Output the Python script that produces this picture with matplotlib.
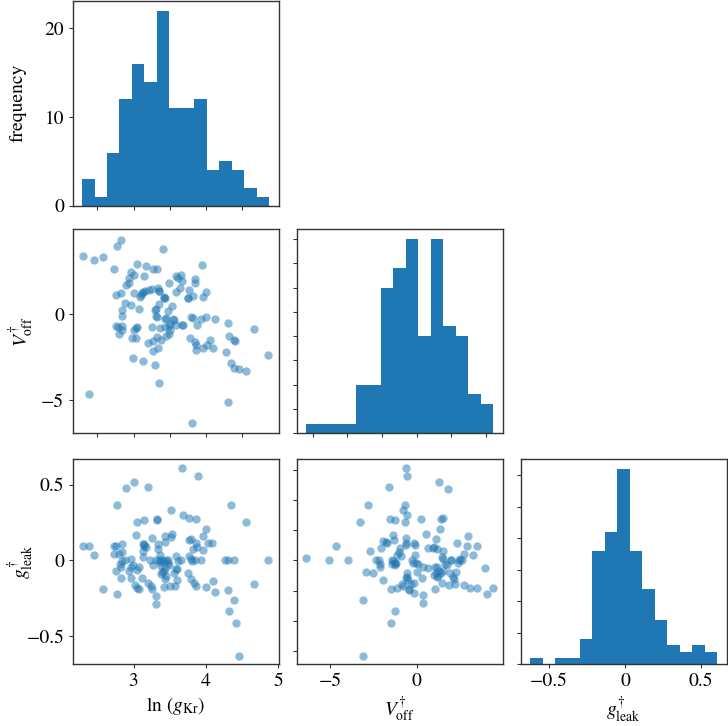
import numpy as np
import matplotlib
matplotlib.use("Agg")
import matplotlib.pyplot as plt

plt.rcParams['font.family'] = ['STIXGeneral', 'DejaVu Serif']
plt.rcParams['mathtext.fontset'] = 'stix'
plt.rcParams['font.size'] = 14

# ---------------- histogram data (diagonal) ----------------
lngkr_range = (2.287, 4.877)
lngkr_counts = [3, 1, 6, 12, 16, 14, 22, 11, 11, 12, 4, 5, 4, 2, 1]
voff_range = (-6.39, 4.42)
voff_counts = [1, 1, 1, 1, 5, 5, 15, 17, 20, 10, 20, 11, 10, 4, 3]
gleak_range = (-0.626, 0.608)
gleak_counts = [1, 0, 1, 1, 4, 18, 21, 31, 18, 12, 7, 3, 2, 3, 2]

# ---------------- scatter: ln(gKr) vs V_off ----------------
a_lngkr = [2.295, 2.447, 2.571, 2.774, 2.829, 3.406, 2.733, 3.051, 3.171, 3.263,
           3.318, 3.949, 2.968, 3.009, 3.143, 2.940, 2.935, 2.889, 3.594, 3.654,
           3.622, 3.677, 3.488, 3.853, 3.848, 2.760, 2.820, 3.005, 3.134, 3.152,
           3.217, 3.258, 3.336, 3.355, 3.106, 3.092, 3.415, 3.442, 3.594, 3.641,
           3.770, 3.747, 3.816, 3.963, 4.005, 2.876, 2.968, 3.346, 3.535, 2.834,
           3.074, 3.309, 3.470, 2.843, 3.323, 3.433, 3.548, 3.793, 3.829, 3.940,
           4.005, 4.134, 2.760, 2.779, 2.834, 2.839, 2.793, 3.009, 3.046, 2.977,
           3.037, 3.258, 3.429, 3.493, 3.507, 3.585, 3.682, 3.369, 3.507, 3.484,
           3.447, 3.885, 4.313, 4.664, 3.203, 3.267, 3.327, 3.378, 3.263, 3.341,
           3.779, 3.857, 3.871, 3.866, 3.963, 4.018, 4.065, 4.097, 4.323, 4.387,
           4.410, 4.276, 2.986, 3.129, 3.300, 4.350, 4.387, 4.456, 4.553, 4.866,
           3.350, 2.382, 4.309, 3.806, 3.300, 3.424, 3.313, 3.677, 3.120, 3.028,
           3.450, 3.350, 3.553, 3.760]
a_voff = [3.40, 3.17, 3.36, 3.97, 4.31, 3.84, 2.65, 2.96, 2.82, 2.65,
          2.67, 2.88, 2.48, 2.31, 2.21, 2.10, 1.85, 1.72, 2.21, 2.31,
          2.10, 1.93, 1.83, 2.08, 1.85, 1.15, 1.26, 1.22, 1.30, 1.34,
          1.43, 1.49, 1.53, 1.37, 1.11, 0.99, 0.99, 0.95, 1.30, 1.55,
          1.41, 0.94, 1.07, 1.03, 1.28, 0.69, 0.53, 0.63, 0.48, 0.23,
          0.31, 0.29, 0.21, -0.10, -0.13, -0.25, -0.25, -0.13, -0.19, -0.25,
          -0.17, -0.29, -0.67, -0.71, -0.67, -0.90, -1.15, -0.90, -0.74, -1.35,
          -1.39, -0.71, -0.74, -0.65, -0.55, -0.63, -0.63, -0.82, -0.90, -1.16,
          -1.28, -0.59, -0.52, -0.84, -1.66, -1.55, -1.34, -1.47, -2.14, -1.98,
          -1.35, -1.62, -1.77, -2.06, -1.97, -1.77, -1.47, -1.97, -1.28, -1.47,
          -1.56, -2.19, -2.54, -2.69, -2.94, -2.82, -3.11, -3.21, -3.32, -2.37,
          -3.97, -4.66, -5.08, -6.34, 0.25, 0.97, -0.10, -0.60, 1.24, -0.82,
          -0.22, 1.35, -0.30, 0.97]

# ---------------- scatter: ln(gKr) vs g_leak ----------------
b_lngkr = [2.295, 2.378, 2.452, 2.571, 2.770, 2.728, 2.760, 2.733, 2.797, 2.839,
           2.839, 2.889, 3.009, 3.203, 3.041, 3.138, 3.037, 3.318, 3.327, 3.516,
           3.687, 3.770, 3.862, 3.894, 3.673, 3.530, 3.258, 3.138, 3.147, 3.166,
           3.332, 3.438, 3.129, 3.134, 2.968, 2.968, 2.991, 3.074, 2.931, 2.959,
           2.816, 2.843, 2.876, 2.751, 2.825, 2.829, 2.774, 3.014, 3.074, 3.051,
           3.115, 3.203, 3.235, 3.258, 3.309, 3.313, 3.226, 3.276, 3.313, 3.346,
           3.373, 3.341, 3.369, 3.424, 3.452, 3.419, 3.498, 3.571, 3.599, 3.590,
           3.622, 3.654, 3.475, 3.484, 3.433, 3.392, 3.608, 3.553, 3.765, 3.793,
           3.862, 3.829, 3.774, 3.797, 3.853, 3.811, 3.747, 3.793, 3.834, 3.862,
           3.880, 3.940, 3.963, 4.005, 3.968, 4.032, 4.083, 4.000, 4.101, 4.134,
           4.272, 4.304, 4.387, 4.350, 4.558, 4.313, 4.392, 4.327, 4.415, 4.456,
           4.668, 4.862, 3.406, 3.581, 3.433, 3.521, 3.360, 3.400, 3.450, 3.470,
           3.380, 3.440, 3.130, 3.050]
b_gleak = [0.095, 0.098, 0.036, -0.189, 0.368, 0.093, 0.095, 0.045, 0.043, 0.107,
           0.057, 0.482, 0.518, 0.486, 0.255, 0.266, 0.168, 0.277, 0.266, 0.334,
           0.302, 0.284, 0.275, 0.561, 0.614, 0.175, 0.148, 0.111, 0.098, 0.091,
           0.111, 0.120, 0.061, 0.023, 0.009, -0.045, -0.032, -0.041, -0.068, -0.118,
           -0.023, -0.007, 0.005, -0.068, -0.045, -0.116, -0.223, -0.164, -0.186, -0.182,
           -0.114, -0.148, -0.166, -0.189, -0.234, -0.286, 0.000, -0.027, 0.000, 0.000,
           -0.034, 0.075, 0.034, -0.068, -0.105, -0.173, -0.170, -0.166, -0.127, 0.027,
           -0.007, 0.000, 0.000, -0.027, -0.048, -0.075, -0.057, -0.080, 0.136, 0.141,
           0.118, 0.077, 0.027, 0.011, 0.000, -0.005, -0.080, -0.125, -0.150, -0.166,
           0.091, 0.000, 0.068, 0.209, 0.164, 0.118, 0.118, -0.177, -0.134, -0.211,
           0.000, 0.000, 0.000, 0.364, 0.255, -0.198, -0.261, -0.336, -0.416, -0.634,
           -0.157, 0.000, -0.005, -0.057, 0.159, 0.152, -0.010, 0.000, 0.000, -0.020,
           -0.090, -0.120, 0.110, -0.060]

# ---------------- scatter: V_off vs g_leak ----------------
c_voff = [-6.38, -5.06, -4.65, -3.94, -3.29, -3.12, -3.12, -2.90, -2.79, -2.67,
          -2.52, -2.37, -2.19, -2.10, -2.04, -2.13, -1.94, -1.92, -1.77, -1.69,
          -1.62, -1.52, -1.50, -1.50, -1.42, -1.37, -1.35, -1.31, -1.27, -1.27,
          -1.23, -1.19, -1.12, -1.04, -0.96, -0.92, -0.81, -0.83, -0.77, -0.69,
          -0.65, -0.63, -0.62, -0.63, -0.58, -0.62, -0.54, -0.58, -0.62, -0.52,
          -0.46, -0.42, -0.35, -0.29, -0.21, -0.17, -0.13, -0.12, -0.15, -0.10,
          -0.04, 0.00, 0.10, 0.27, 0.31, 0.35, 0.38, 0.35, 0.52, 0.67,
          0.63, 0.92, 1.00, 1.06, 1.08, 1.12, 1.10, 1.15, 1.17, 1.23,
          1.31, 1.35, 1.38, 1.42, 1.46, 1.50, 1.50, 1.50, 1.54, 1.62,
          1.46, 1.81, 1.88, 1.92, 1.96, 2.00, 2.15, 2.21, 2.29, 2.31,
          2.40, 2.50, 2.60, 2.71, 2.75, 2.92, 2.98, 3.08, 3.23, 3.46,
          3.48, 3.96, 4.08, 4.42, 1.19, 1.31, 1.00, -0.58, -1.44, 2.12,
          1.73, 2.46, -1.25, -1.12]
c_gleak = [0.016, 0.000, 0.098, 0.000, 0.255, -0.261, -0.636, -0.075, 0.364, 0.061,
           -0.080, 0.000, 0.000, -0.023, 0.082, -0.041, -0.132, 0.130, 0.123, 0.118,
           0.486, 0.277, -0.189, -0.416, 0.000, 0.170, -0.005, 0.136, 0.268, -0.030,
           -0.336, -0.016, 0.036, 0.057, 0.080, 0.027, 0.336, -0.159, -0.166, 0.255,
           0.368, 0.148, 0.114, 0.102, 0.300, 0.614, 0.561, -0.086, -0.114, -0.132,
           -0.195, -0.189, -0.155, 0.000, -0.018, -0.148, 0.118, 0.102, -0.216, 0.034,
           -0.018, -0.075, -0.023, 0.277, -0.116, -0.232, -0.284, -0.041, 0.175, 0.080,
           -0.048, 0.080, 0.091, -0.041, -0.189, 0.145, -0.080, -0.109, 0.073, -0.100,
           0.518, 0.209, 0.273, -0.082, 0.023, 0.009, 0.284, -0.068, 0.061, -0.023,
           -0.148, 0.473, -0.164, -0.082, 0.000, 0.000, -0.123, -0.155, -0.075, 0.114,
           -0.018, 0.011, 0.000, -0.164, 0.045, 0.095, 0.164, -0.180, 0.034, -0.182,
           0.095, -0.048, -0.223, -0.180, -0.041, -0.068, -0.095, -0.109, -0.023, -0.109,
           -0.032, 0.000, -0.018, -0.182]

# ---------------- layout ----------------
W, H = 728, 726
fig = plt.figure(figsize=(W / 100, H / 100), dpi=100)
col_left = [72.7, 296.7, 520.7]
col_w = 205.8
row_top = [1.0, 229.3, 459.3]
row_h = [204.7, 204.0, 205.0]
ylabel_x_text = (27 - col_left[0]) / col_w   # axes-fraction position of y labels
ylabel_x_math = (36 - col_left[0]) / col_w

def make_ax(r, c):
    return fig.add_axes([col_left[c] / W, 1 - (row_top[r] + row_h[r]) / H,
                         col_w / W, row_h[r] / H])

edge_c = '#333333'
def style(ax):
    for s in ax.spines.values():
        s.set_color(edge_c)
        s.set_linewidth(1.0)
    ax.tick_params(length=3, width=0.8, color=edge_c, labelsize=14, pad=3)

def padded(rng):
    span = rng[1] - rng[0]
    return (rng[0] - 0.05 * span, rng[1] + 0.05 * span)

color = '#1f77b4'
sc_kw = dict(s=36, color=color, alpha=0.5, linewidths=0)

lim_g = padded(lngkr_range)
lim_v = padded(voff_range)
lim_l = padded(gleak_range)

# (0,0) histogram ln gKr
ax = make_ax(0, 0)
e = np.linspace(*lngkr_range, len(lngkr_counts) + 1)
ax.hist(e[:-1], bins=e, weights=lngkr_counts, color=color)
ax.set_xlim(lim_g)
ax.set_xticks([2.5, 3.0, 3.5, 4.0, 4.5])
ax.set_xticklabels([])
ax.set_yticks([0, 10, 20])
ax.set_ylabel('frequency')
ax.yaxis.set_label_coords(ylabel_x_text, 0.5)
style(ax)

# (1,0) scatter
ax = make_ax(1, 0)
ax.scatter(a_lngkr, a_voff, **sc_kw)
ax.set_xlim(lim_g); ax.set_ylim(lim_v)
ax.set_xticks([2.5, 3.0, 3.5, 4.0, 4.5]); ax.set_xticklabels([])
ax.set_yticks([-5, 0])
ax.set_yticklabels(['\u22125', '0'])
ax.set_ylabel(r'$V^{\dagger}_{\rm off}$')
ax.yaxis.set_label_coords(ylabel_x_math, 0.5)
style(ax)

# (1,1) histogram V_off
ax = make_ax(1, 1)
e = np.linspace(*voff_range, len(voff_counts) + 1)
ax.hist(e[:-1], bins=e, weights=voff_counts, color=color)
ax.set_xlim(lim_v)
ax.set_xticks([-6, -4, -2, 0, 2, 4]); ax.set_xticklabels([])
ax.set_yticks(np.arange(0, 21, 2.5)); ax.set_yticklabels([])
style(ax)

# (2,0) scatter
ax = make_ax(2, 0)
ax.scatter(b_lngkr, b_gleak, **sc_kw)
ax.set_xlim(lim_g); ax.set_ylim(lim_l)
ax.set_xticks([3, 4, 5])
ax.set_yticks([-0.5, 0, 0.5])
ax.set_yticklabels(['\u22120.5', '0', '0.5'])
ax.set_xlabel(r'ln $(g_{\rm Kr})$')
ax.set_ylabel(r'$g^{\dagger}_{\rm leak}$')
ax.yaxis.set_label_coords(ylabel_x_math, 0.5)
style(ax)

# (2,1) scatter
ax = make_ax(2, 1)
ax.scatter(c_voff, c_gleak, **sc_kw)
ax.set_xlim(lim_v); ax.set_ylim(lim_l)
ax.set_xticks([-5, 0]); ax.set_xticklabels(['\u22125', '0'])
ax.set_yticks(np.arange(-0.6, 0.61, 0.2)); ax.set_yticklabels([])
ax.set_xlabel(r'$V^{\dagger}_{\rm off}$')
style(ax)

# (2,2) histogram g_leak
ax = make_ax(2, 2)
e = np.linspace(*gleak_range, len(gleak_counts) + 1)
ax.hist(e[:-1], bins=e, weights=gleak_counts, color=color)
ax.set_xlim(lim_l)
ax.set_xticks([-0.5, 0, 0.5]); ax.set_xticklabels(['\u22120.5', '0', '0.5'])
ax.set_yticks(np.arange(0, 31, 5)); ax.set_yticklabels([])
ax.set_xlabel(r'$g^{\dagger}_{\rm leak}$')
style(ax)

fig.savefig('out.png', dpi=100)
